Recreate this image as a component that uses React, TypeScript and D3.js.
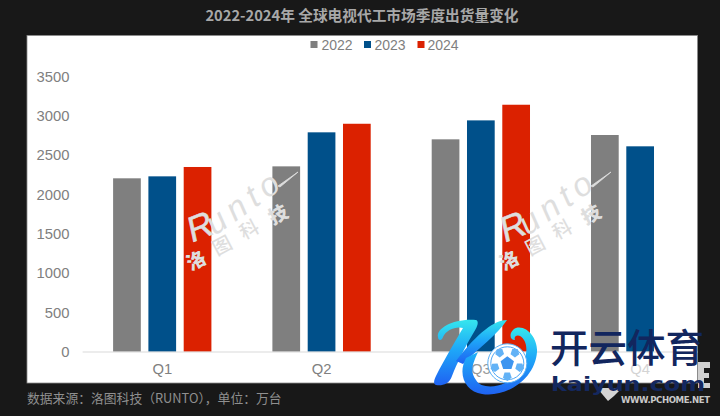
import React from "react";
import * as d3 from "d3";

const quarters = ["Q1", "Q2", "Q3", "Q4"];
const seriesNames = ["2022", "2023", "2024"];
const values2022 = [2206, 2358, 2702, 2757];
const values2023 = [2231, 2791, 2943, 2613];
const values2024 = [2350, 2900, 3142, null];
const yTicks = [0, 500, 1000, 1500, 2000, 2500, 3000, 3500];
const colors = ["#7f7f7f", "#00508a", "#db2100"];
const quarterLabelColors = ["#808080", "#808080", "#9a9a9a", "#d4d4d4"];
const allSeries = [values2022, values2023, values2024];

const W = 720, H = 416;
const x = d3.scaleBand<string>().domain(quarters).range([82.6, 719.8]).paddingInner(0).paddingOuter(0);
const xInner = d3.scaleBand<string>().domain(seriesNames).range([0, x.bandwidth()]).paddingInner(0.215).paddingOuter(0.864);
const y = d3.scaleLinear().domain([0, 3500]).range([351.7, 76.6]);

const cjk = '"Noto Sans CJK SC", "Noto Sans", sans-serif';
const latin = '"Liberation Sans", Arial, sans-serif';

function Watermark({ dx }: { dx: number }) {
  const fill = "#dedede";
  return (
    <g transform={`translate(${dx},0)`} fill={fill}>
      <text transform="translate(191,243) rotate(-22) skewX(-10)" fontFamily={latin} fontSize={35} fontWeight={400} stroke={fill} strokeWidth={0.6}>R</text>
      <text transform="translate(215,236) rotate(-35)" fontFamily={latin} fontSize={33} fontStyle="italic" letterSpacing={6}>unto</text>
      <path d="M278 186 L298 172 L280 187 Z" stroke={fill} strokeWidth={0.8} />
      {["洛", "图", "科", "技"].map((c, i) => (
        <text key={c} transform={`translate(${[191, 217, 244, 273][i]},${[271, 256, 240, 225][i]}) rotate(-28)`}
          fontFamily={cjk} fontSize={19} fontWeight={i === 0 || i === 3 ? 900 : 500}>{c}</text>
      ))}
    </g>
  );
}

function Ball() {
  const cx = 507.3, cy = 363.3;
  const angles = d3.range(5).map((i) => (-90 + i * 72) * Math.PI / 180);
  const poly = (px: number, py: number, r: number, rot = 0) =>
    angles.map((a) => `${px + r * Math.cos(a + rot)},${py + r * Math.sin(a + rot)}`).join(" ");
  return (
    <g>
      <circle cx={cx} cy={cy} r={19.5} fill="#fff" stroke="#58aef5" strokeWidth={1} />
      <circle cx={cx} cy={cy} r={16.5} fill="#fff" stroke="#4da6f5" strokeWidth={1} />
      <polygon points={poly(cx, cy, 7)} fill="#3d95f0" />
      {angles.map((a, i) => (
        <polygon key={i} points={poly(cx + 13 * Math.cos(a + Math.PI / 5), cy + 13 * Math.sin(a + Math.PI / 5), 4.6, Math.PI / 5 + i * 1.25)} fill="#62b2f6" />
      ))}
    </g>
  );
}

function KaiyunLogo() {
  return (
    <g>
      <defs>
        <linearGradient id="kg" x1="0" y1="0" x2="0" y2="1">
          <stop offset="0" stopColor="#35e6ee" />
          <stop offset="0.45" stopColor="#1ea8f8" />
          <stop offset="1" stopColor="#1f62f2" />
        </linearGradient>
      </defs>
      <path fill="url(#kg)" d="M438 337 C436 328 455 318 476 320 C479 321 478 326 474 332 C466 345 456 365 452 376 C449 385 441 386 436 385 C433 384 434 380 436 376 C444 360 456 340 463 328 C456 326 446 330 443 337 C442 341 438 341 438 337 Z" />
      <path fill="url(#kg)" d="M507 320 C495 320 478 332 456 361 L463 364 C480 347 497 335 507 320 Z" />
      <path fill="url(#kg)" d="M466 358 C457 375 466 392 482 394 C505 398 535 380 537 352 C538 340 528 325 516 328 C510 330 508 340 515 340 C513 335 520 333 524 340 C530 350 525 370 505 383 C495 388 480 388 476 380 C470 372 472 365 478 352 Z" />
      <Ball />
      <text x={550} y={362} fontFamily={cjk} fontSize={38.5} fontWeight={500} fill="#12265e">开云体育</text>
      <text x={551} y={391} fontFamily={'"DejaVu Sans", sans-serif'} fontSize={19} fontWeight={700} fill="#14285f" textLength={154} lengthAdjust="spacingAndGlyphs">kaiyun.com</text>
    </g>
  );
}

export default function App() {
  return (
    <svg width={W} height={H} viewBox={`0 0 ${W} ${H}`} style={{ position: "fixed", left: 0, top: 0, display: "block" }}>
      <rect width={W} height={H} fill="#181818" />
      <text x={362} y={21} textAnchor="middle" fontFamily={cjk} fontSize={14.7} fontWeight={700} fill="#a8a8a8">2022-2024年 全球电视代工市场季度出货量变化</text>
      <rect x={27} y={35.5} width={670.5} height={347.5} fill="#fff" stroke="#8c8c8c" strokeWidth={0.8} />

      {seriesNames.map((s, i) => (
        <g key={s}>
          <rect x={[310.5, 364, 417.5][i]} y={41} width={7} height={7} fill={colors[i]} />
          <text x={[321.5, 374.5, 427.5][i]} y={49.6} fontFamily={latin} fontSize={14} fill="#7f7f7f">{s}</text>
        </g>
      ))}

      {yTicks.map((t) => (
        <text key={t} x={69.5} y={y(t) + 5.2} textAnchor="end" fontFamily={latin} fontSize={14.8} fill="#808080">{t}</text>
      ))}

      {quarters.map((q, qi) => (
        <g key={q}>
          {seriesNames.map((s, si) => {
            const v = allSeries[si][qi];
            if (v == null) return null;
            return (
              <rect key={s} x={x(q)! + xInner(s)!} y={y(v)} width={xInner.bandwidth()} height={y(0) - y(v)} fill={colors[si]} />
            );
          })}
        </g>
      ))}

      <Watermark dx={0} />
      <Watermark dx={313} />

      <line x1={82.6} x2={697.5} y1={352} y2={352} stroke="#d9d9d9" strokeWidth={1.2} />
      {quarters.map((q, i) => (
        <text key={q} x={x(q)! + x.bandwidth() / 2} y={373.5} textAnchor="middle" fontFamily={latin} fontSize={14.8} fill={quarterLabelColors[i]}>{q}</text>
      ))}

      <text x={27} y={403} fontFamily={cjk} fontSize={12.8} fill="#8f8f8f">数据来源：洛图科技（RUNTO），单位：万台</text>

      <polygon points="597,388 608,401 614,396 621,389 608,388" fill="#d4d4d4" />
      <path d="M698 362 H710 V368 H704 V373 H709 V378 H704 V383 H710 V388 H698 Z" fill="#d0d0d0" />
      <KaiyunLogo />
      <text x={621} y={403} fontFamily={'"DejaVu Sans", sans-serif'} fontSize={8.6} fontWeight={700} fill="#c8c8c8" textLength={89}>WWW.PCHOME.NET</text>
    </svg>
  );
}
